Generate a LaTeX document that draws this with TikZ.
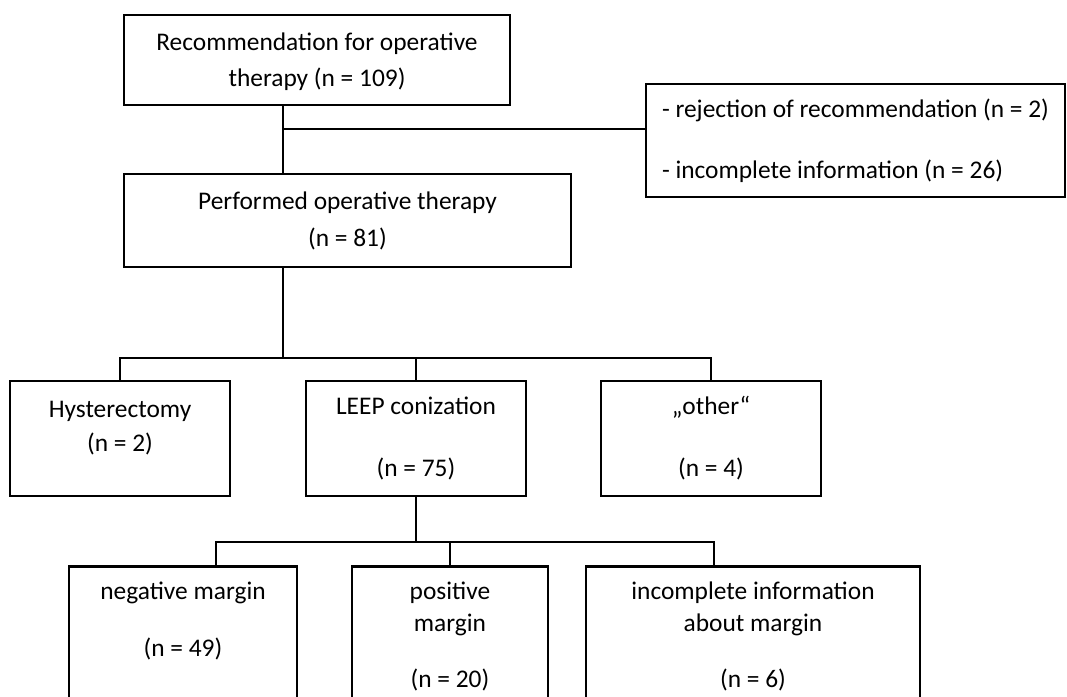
\documentclass[tikz,border=0pt]{standalone}
\usepackage{fontspec}
\setmainfont{Carlito}
\usepackage{tikz}
\tikzstyle{box} = [draw, rectangle, line width=1.3pt, align=center, inner sep=0pt]
\tikzstyle{leaf} = [box, anchor=north, inner ysep=8pt, text depth=70pt]
\tikzstyle{link} = [line width=1.3pt]

\begin{document}
\begin{tikzpicture}[x=0.5pt, y=-0.5pt, every node/.style={font=\fontsize{12.7pt}{16pt}\selectfont}]
		\useasboundingbox (0,0) rectangle (1067,697);
		\clip (0,0) rectangle (1067,697);

		\node (rec) [box, minimum width=193pt, minimum height=45pt, text depth=0.5pt] at (317,60) {Recommendation for operative\\[2pt]therapy (n = 109)};
		\node (excl) [box, align=left, minimum width=209.5pt, minimum height=56.5pt] at (855.5,140.5) {- rejection of recommendation (n = 2)\\[14.5pt]- incomplete information (n = 26)};
		\node (perf) [box, minimum width=223.5pt, minimum height=46.5pt] at (347.5,220.5) {Performed operative therapy\\[2.5pt](n = 81)};

		\node (hyst) [box, minimum width=110pt, minimum height=57.5pt, text depth=12.5pt] at (120,438.5) {Hysterectomy\\[1pt](n = 2)};
		\node (leep) [box, minimum width=110pt, minimum height=57.5pt] at (416,438.5) {LEEP conization\\[15pt](n = 75)};
		\node (other) [box, minimum width=110pt, minimum height=57.5pt] at (711,438.5) {„other“\\[15pt](n = 4)};

		\node (neg) [leaf, minimum width=114pt] at (183,565) {negative margin\\[12.5pt](n = 49)};
		\node (pos) [leaf, minimum width=98pt] at (450,565) {positive\\margin\\[12pt](n = 20)};
		\node (inc) [leaf, minimum width=167pt] at (753,565) {incomplete information\\about margin\\[12pt](n = 6)};

		\coordinate (s1) at (283,129);
		\coordinate (s2) at (283,358);
		\coordinate (s3) at (416,542);

		\draw [link] (rec.south -| s1) -- (perf.north -| s1);
		\draw [link] (s1) -- (excl.west |- s1);
		\draw [link] (perf.south -| s2) -- (s2);
		\draw [link] (hyst.north) |- (s2) -| (other.north);
		\draw [link] (leep.north) -- (leep.north |- s2);
		\draw [link] (leep.south) -- (s3);
		\draw [link] ([xshift=16.5pt]neg.north) |- (s3) -| ([xshift=-19.5pt]inc.north);
		\draw [link] (pos.north) -- (pos.north |- s3);
	\end{tikzpicture}
\end{document}
